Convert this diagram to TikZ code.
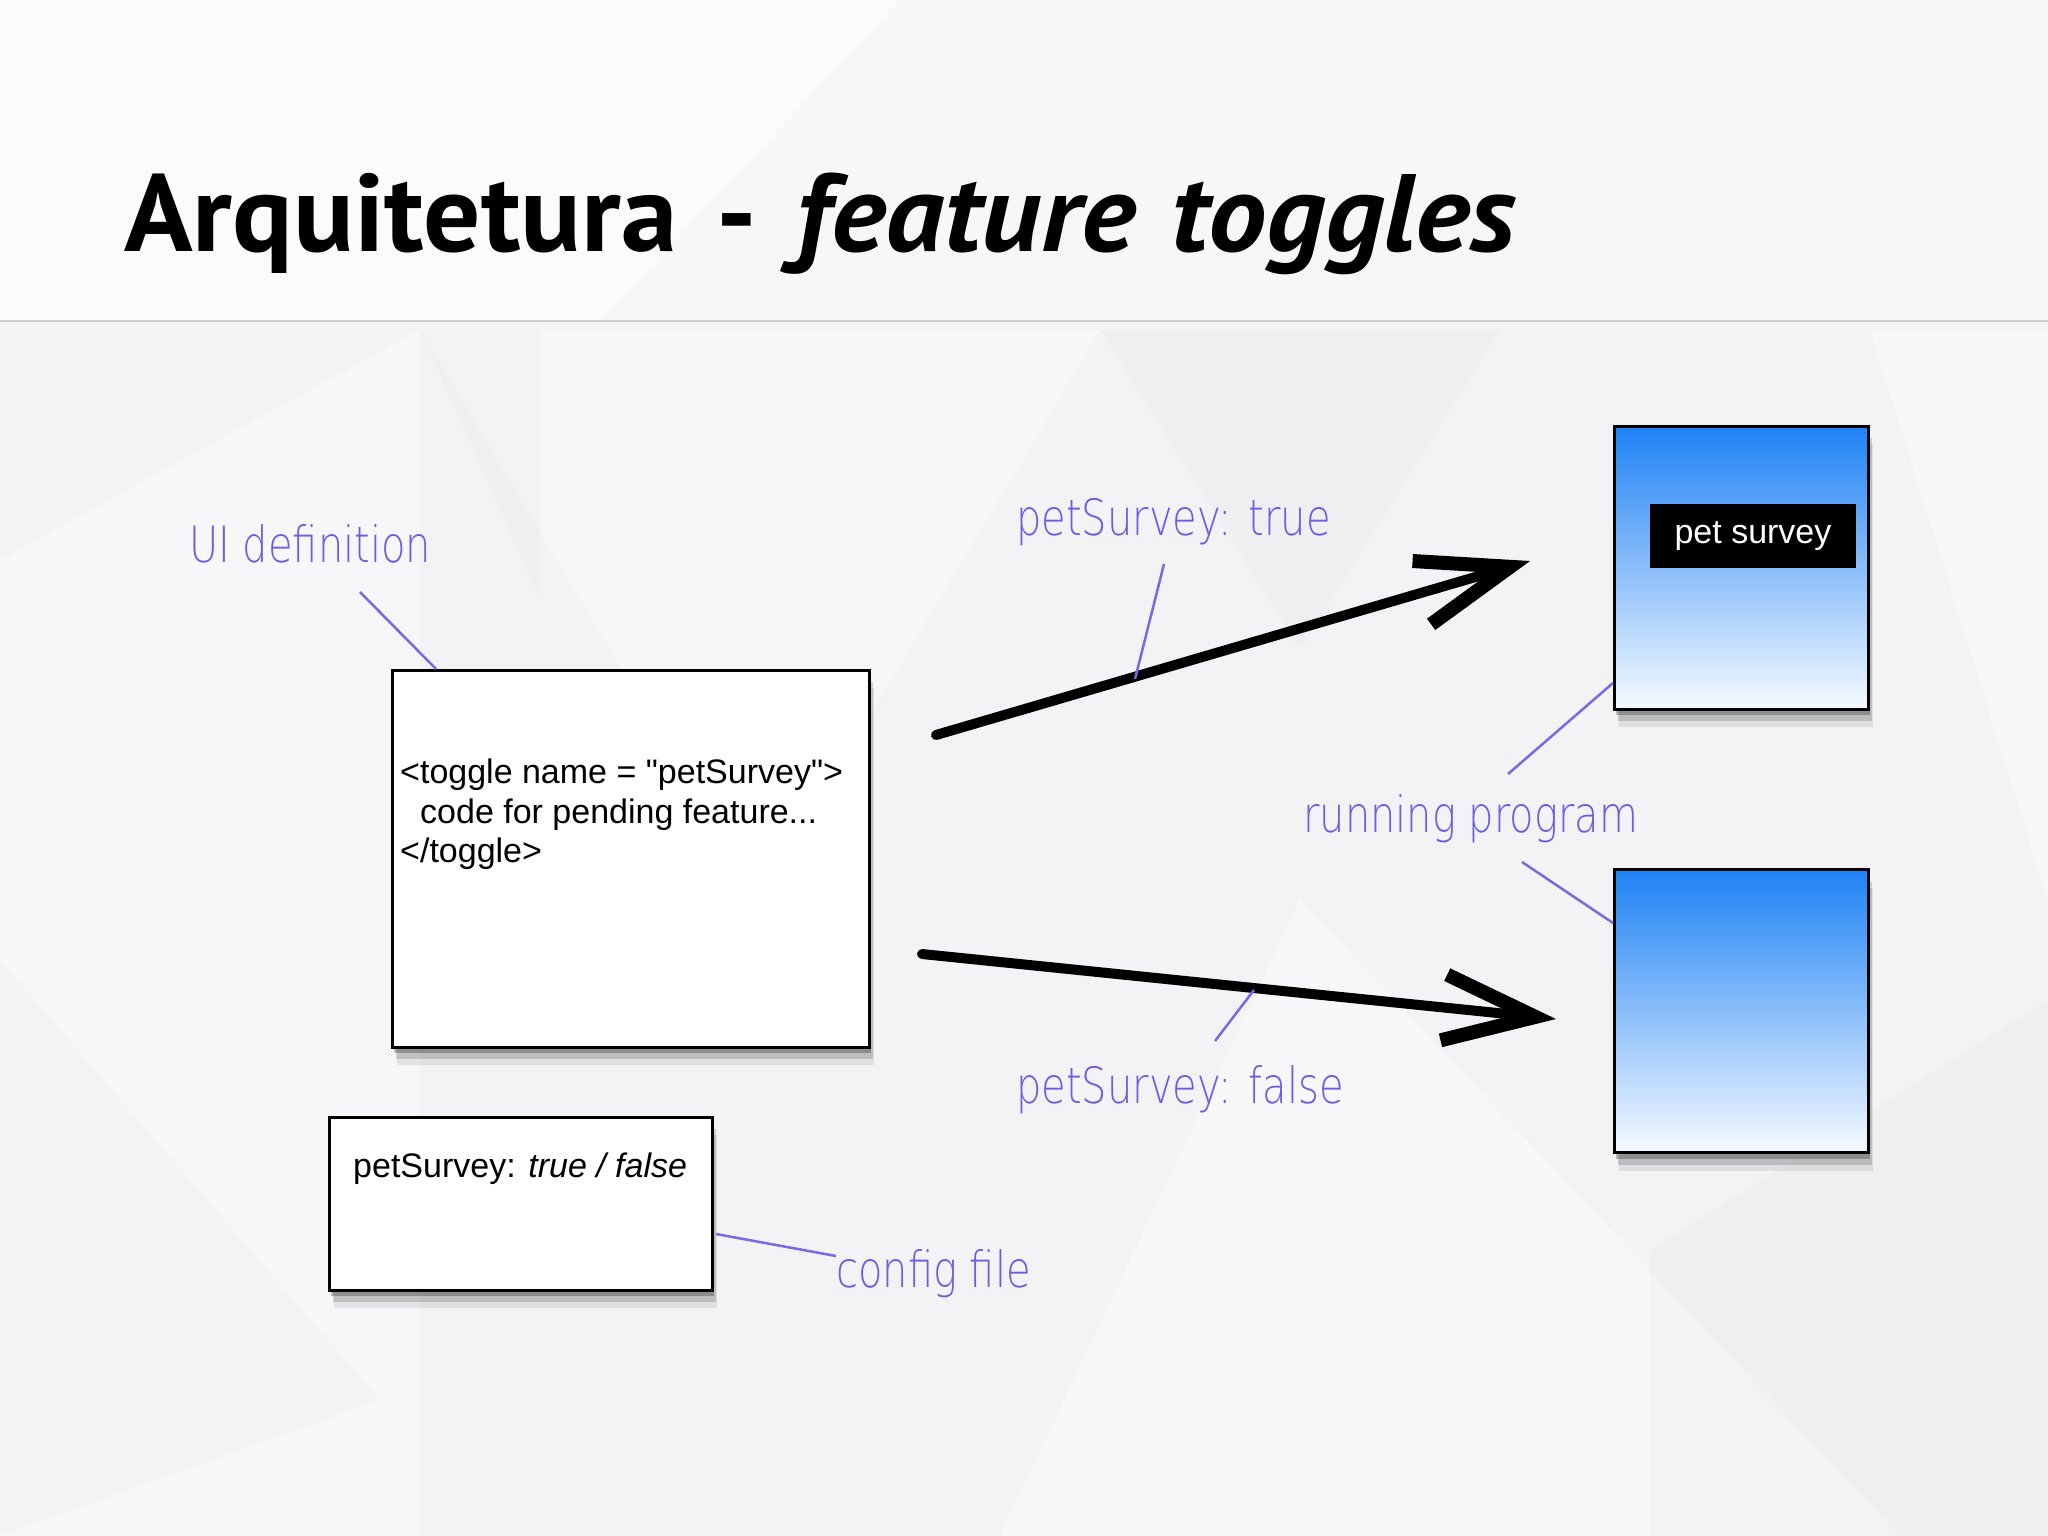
\documentclass[tikz,border=0pt]{standalone}
\usepackage{fontspec}
\setmainfont{Liberation Sans}
\newfontfamily\titlefont[FakeStretch=1.03]{PT Sans}
\newfontfamily\titleitfont[FakeStretch=1.06]{PT Sans}
\newfontfamily\handfont[FakeStretch=0.80]{DejaVuSans-ExtraLight.ttf}
\usetikzlibrary{arrows.meta,shadows}
\definecolor{bgbase}{RGB}{243,243,245}
\definecolor{titlebg}{RGB}{247,247,248}
\definecolor{rulegray}{RGB}{205,205,208}
\definecolor{hand}{RGB}{108,94,228}
\definecolor{handline}{RGB}{118,106,230}
\definecolor{progtop}{RGB}{30,130,245}
\definecolor{progmid}{RGB}{105,172,248}
\definecolor{progbot}{RGB}{246,250,255}
\tikzset{
  boxshadow/.style={
    drop shadow={shadow xshift=2pt,shadow yshift=-6pt,opacity=0.25,fill=black},
    drop shadow={shadow xshift=4pt,shadow yshift=-12pt,opacity=0.15,fill=black},
    drop shadow={shadow xshift=5pt,shadow yshift=-18pt,opacity=0.08,fill=black}},
  whitebox/.style={draw=black,line width=3pt,fill=white,inner sep=0pt,boxshadow},
  progbox/.style={draw=black,line width=3pt,inner sep=0pt,minimum width=254pt,minimum height=283pt,
    top color=progtop,middle color=progmid,bottom color=progbot,boxshadow},
  codetext/.style={anchor=base west,inner sep=0pt,font=\fontsize{34}{40}\selectfont},
  handnote/.style={anchor=base west,inner sep=0pt,text=hand,font=\handfont\fontsize{50}{56}\selectfont},
  leader/.style={draw=handline,line width=2.5pt},
  bigarrow/.style={line width=10pt,line cap=round,-{Straight Barb[length=92pt,width=66pt,line width=4pt 1]}},
  facet/.style={fill=white,opacity=0.4,draw=none},
  facetdark/.style={fill=black,opacity=0.015,draw=none}
}
\begin{document}
\begin{tikzpicture}[x=1pt,y=-1pt]
\useasboundingbox (0,0) rectangle (2048,1536);
% background
\fill[bgbase] (0,0) rectangle (2048,1536);
\fill[facet] (0,560) -- (420,330) -- (420,1536) -- (0,1536) -- cycle;
\fill[facetdark] (0,960) -- (380,1400) -- (0,1536) -- cycle;
\fill[facet] (420,330) -- (1100,330) -- (760,900) -- cycle;
\fill[facetdark] (420,330) -- (540,330) -- (540,600) -- cycle;
\fill[facet] (1300,900) -- (1900,1536) -- (1000,1536) -- cycle;
\fill[facet] (1870,330) -- (2048,330) -- (2048,900) -- cycle;
\fill[facetdark] (1100,330) -- (1500,330) -- (1300,650) -- cycle;
\fill[facetdark] (1650,1250) -- (2048,1000) -- (2048,1536) -- (1650,1536) -- cycle;
\fill[titlebg] (0,0) rectangle (2048,321);
\fill[white,opacity=0.5] (0,0) -- (900,0) -- (600,321) -- (0,321) -- cycle;
\draw[rulegray,line width=2pt] (0,321) -- (2048,321);

% title
\node[anchor=base west,inner sep=0pt] (title) at (124,251)
  {\fontsize{110}{120}\selectfont\bfseries\titlefont Arquitetura\hspace{10pt} -\hspace{10pt} {\titleitfont\itshape feature\hspace{6pt} toggles}};

% code box
\node[whitebox,minimum width=477pt,minimum height=377pt] (code) at (630.5,858.5) {};
\node[codetext] (codeA) at (400,783) {<toggle name = \textquotedbl petSurvey\textquotedbl>};
\node[codetext] (codeB) at (420,823) {code for pending feature...};
\node[codetext] (codeC) at (400,862) {</toggle>};

% config box
\node[whitebox,minimum width=383pt,minimum height=173pt] (config) at (520.5,1203.5) {};
\node[codetext] (configtext) at (353,1177) {petSurvey: \textit{true / false}};

% running programs
\node[progbox] (progA) at (1741,567.5) {};
\node[progbox] (progB) at (1741,1011) {};
\node[fill=black,text=white,inner sep=0pt,minimum width=206pt,minimum height=64pt,
  font=\fontsize{34}{40}\selectfont] (petlabel) at (1753,536) {pet survey};

% arrows
\coordinate (a1s) at (936,735);
\coordinate (a1e) at (1530,561);
\coordinate (a2s) at (922,954);
\coordinate (a2e) at (1556,1019);
\draw[bigarrow] (a1s) -- (a1e);
\draw[bigarrow] (a2s) -- (a2e);

% handwritten notes
\node[handnote] (nUI) at (189,562) {UI definition};
\node[handnote] (nTrue) at (1016,535) {petSurvey: true};
\node[handnote] (nRun) at (1303,832) {running program};
\node[handnote] (nFalse) at (1016,1103) {petSurvey: false};
\node[handnote] (nConf) at (836,1287) {config file};

% leader lines
\coordinate (l1a) at (360,592);  \coordinate (l1b) at (436,669);
\coordinate (l2a) at (1164,564); \coordinate (l2b) at (1135,679);
\coordinate (l3a) at (1508,774); \coordinate (l3b) at (1613,683);
\coordinate (l4a) at (1522,862); \coordinate (l4b) at (1613,923);
\coordinate (l5a) at (1215,1041);\coordinate (l5b) at (1254,990);
\coordinate (l6a) at (716,1234); \coordinate (l6b) at (836,1256);
\draw[leader] (l1a) -- (l1b);
\draw[leader] (l2a) -- (l2b);
\draw[leader] (l3a) -- (l3b);
\draw[leader] (l4a) -- (l4b);
\draw[leader] (l5a) -- (l5b);
\draw[leader] (l6a) -- (l6b);
\end{tikzpicture}
\end{document}
